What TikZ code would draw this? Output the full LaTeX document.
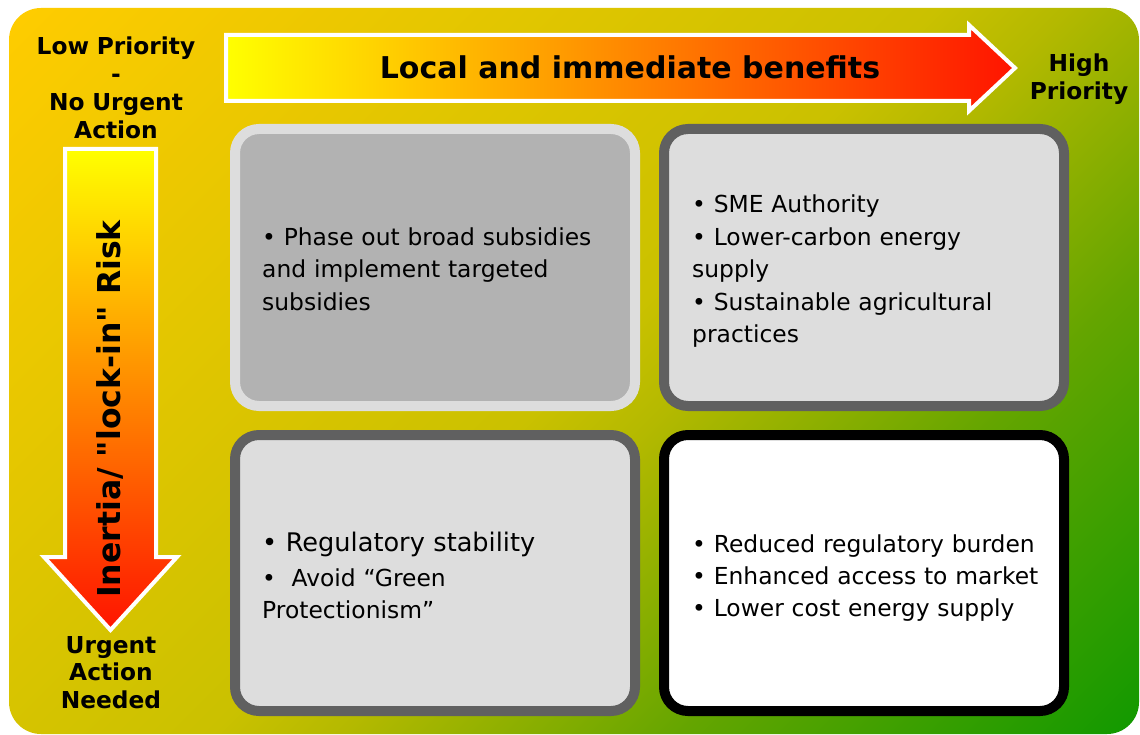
\documentclass[tikz,border=0pt]{standalone}
\usepackage{fontspec}
\setmainfont{DejaVu Sans}
% same face without TeX ligature mapping, so " stays a straight quote
\newfontfamily\plainsans{DejaVu Sans}

% background gradient colours (top-left to bottom-right)
\definecolor{bgA}{RGB}{255,204,0}
\definecolor{bgB}{RGB}{202,193,0}
\definecolor{bgC}{RGB}{180,185,0}
\definecolor{bgE}{RGB}{100,165,0}
\definecolor{bgD}{RGB}{17,153,0}
% arrow colours
\definecolor{arYellow}{RGB}{255,255,0}
\definecolor{arOrangeH}{RGB}{255,150,0}
\definecolor{arOrangeV}{RGB}{255,185,0}
\definecolor{arRed}{RGB}{255,20,0}
% box colours
\definecolor{boxLight}{RGB}{221,221,221}
\definecolor{boxMid}{RGB}{178,178,178}
\definecolor{boxDark}{RGB}{96,96,96}

\pgfdeclarehorizontalshading{bgshade}{100bp}{%
  color(0bp)=(bgA); color(14.6bp)=(bgA); color(50bp)=(bgB);
  color(55bp)=(bgC); color(68bp)=(bgE); color(85.4bp)=(bgD); color(100bp)=(bgD)}

\begin{document}
\begin{tikzpicture}[x=1pt,y=-1pt,
  quad/.style={rectangle, rounded corners=24pt, line width=10pt,
    minimum width=400pt, inner sep=0pt, outer sep=0pt},
  quadtop/.style={quad, minimum height=277pt},
  quadbot/.style={quad, minimum height=276pt},
  boxtext/.style={anchor=base west, inner sep=0pt, text width=380pt, align=left,
    font=\fontsize{23.4}{32.4}\selectfont},
  axislabel/.style={anchor=base, inner sep=0pt, text width=220pt, align=center,
    font=\bfseries\fontsize{23.3}{27.8}\selectfont},
  arrowbody/.style={draw=white, line width=4pt, line join=miter}
]
\useasboundingbox (0,0) rectangle (1140,735);
\fill[white] (0,0) rectangle (1140,735);

% gradient panel
\path[shading=bgshade, shading angle=-45, rounded corners=32pt]
  (9,8) rectangle (1139,734);

% horizontal arrow
\path[arrowbody, left color=arYellow, middle color=arOrangeH, right color=arRed]
  (226,35) -- (969,35) -- (969,25) -- (1015,68) -- (969,111) -- (969,101)
  -- (226,101) -- cycle;
\node[anchor=base, inner sep=0pt, font=\bfseries\fontsize{30}{36}\selectfont]
  (benefits) at (630,79) {Local and immediate benefits};

% vertical arrow
\path[arrowbody, top color=arYellow, middle color=arOrangeV, bottom color=arRed]
  (65,149) -- (156,149) -- (156,557) -- (177,557) -- (110.5,630) -- (44,557)
  -- (65,557) -- cycle;
\node[rotate=90, anchor=base, inner sep=0pt,
  font=\plainsans\bfseries\fontsize{31.5}{36}\selectfont]
  (inertia) at (120,409) {Inertia/ "lock-in" Risk};

% axis labels
\node[axislabel] (lowprio) at (116,55) {Low Priority\\-\\No Urgent\\Action};
\node[axislabel, text width=120pt] (highprio) at (1079,72) {High\\Priority};
\node[axislabel] (urgent) at (111,653) {Urgent\\Action\\Needed};

% quadrants
\node[quadtop, draw=boxLight, fill=boxMid] (tl) at (435,267.5) {};
\node[quadtop, draw=boxDark, fill=boxLight] (tr) at (864,267.5) {};
\node[quadbot, draw=boxDark, fill=boxLight] (bl) at (435,573) {};
\node[quadbot, draw=black, fill=white] (br) at (864,573) {};

% quadrant texts
\node[boxtext] (tlText) at (262,245.5)
  {• Phase out broad subsidies\\and implement targeted\\subsidies};
\node[boxtext] (trText) at (692,213)
  {• SME Authority\\• Lower-carbon energy\\supply\\• Sustainable agricultural\\practices};
\node[boxtext, font=\fontsize{25.6}{32}\selectfont] (blText1) at (262,551)
  {• Regulatory stability};
\node[boxtext] (blText2) at (262,586)
  {•\ \ Avoid “Green\\Protectionism”};
\node[boxtext] (brText) at (692,552)
  {• Reduced regulatory burden\\• Enhanced access to market\\• Lower cost energy supply};
\end{tikzpicture}
\end{document}
